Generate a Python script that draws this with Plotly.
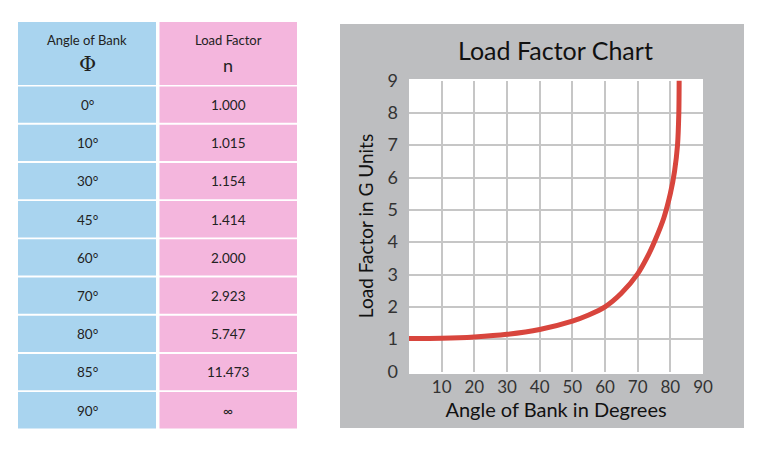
import plotly.graph_objects as go

# table values
header_names = ["Angle of Bank", "Load Factor"]
header_symbols = ["Φ", "n"]
bank_angles = ["0°", "10°", "30°", "45°", "60°", "70°", "80°", "85°", "90°"]
load_factors = ["1.000", "1.015", "1.154", "1.414", "2.000", "2.923", "5.747", "11.473", "∞"]

# curve
curve_angle = [0, 10, 20, 30, 40, 50, 55, 60, 65, 70, 73, 75.5, 78, 80, 81.3, 82.2, 82.6, 82.7]
curve_load = [1.02, 1.03, 1.07, 1.15, 1.3, 1.56, 1.75, 2.0, 2.42, 3.02, 3.55, 4.1, 4.75, 5.5, 6.2, 7.0, 8.0, 9.0]

x_ticks = [10, 20, 30, 40, 50, 60, 70, 80, 90]
y_ticks = [0, 1, 2, 3, 4, 5, 6, 7, 8, 9]

# page body has an 8px margin, so the figure is a bit smaller and offset
OX, OY = 8, 8
W, H = 760, 444
font = "Lato"
blue = "#a9d4ef"
pink = "#f4b6dd"
ink = "#222"

fig = go.Figure()


def px(x):
    return (x - OX) / W


def py(y):
    return 1 - (y - OY) / H


def cell(x0, x1, y0, y1, color):
    fig.add_shape(type="rect", xref="paper", yref="paper",
                  x0=px(x0), x1=px(x1), y0=py(y1), y1=py(y0),
                  fillcolor=color, line_width=0, layer="below")


def label(text, x, y, size, family=font, color=ink):
    fig.add_annotation(text=text, xref="paper", yref="paper", x=px(x), y=py(y),
                       xanchor="center", yanchor="middle", showarrow=False,
                       font=dict(family=family, size=size, color=color))


# table drawn as blocks
cols = [(18, 156, blue), (159.5, 297, pink)]
for c, (x0, x1, color) in enumerate(cols):
    xm = (x0 + x1) / 2
    cell(x0, x1, 22, 85, color)
    label(header_names[c], xm, 40, 13)
    if c == 0:
        label(header_symbols[c], xm, 64, 21, "DejaVu Serif")
    else:
        label(header_symbols[c], xm, 65, 18)
    column = bank_angles if c == 0 else load_factors
    for i, v in enumerate(column):
        top = 86.5 + i * 38.2
        cell(x0, x1, top, top + 36.3, color)
        label(v, xm, top + 18.5, 13.5)

fig.add_trace(go.Scatter(
    x=curve_angle, y=curve_load, mode="lines",
    line=dict(color="#d8453d", width=5, shape="spline", smoothing=0.8),
    showlegend=False, hoverinfo="skip",
))

# gray panel and white plot area
fig.add_shape(type="rect", xref="paper", yref="paper",
              x0=px(340), x1=px(744), y0=py(428), y1=py(24),
              fillcolor="#bdbec0", line_width=0, layer="below")
fig.add_shape(type="rect", xref="paper", yref="paper",
              x0=px(409), x1=px(703), y0=py(374), y1=py(79),
              fillcolor="white", line_width=0, layer="below")

label("Load Factor Chart", 555, 50, 25, color="#111")

fig.update_xaxes(
    domain=[px(409), px(703)], range=[0, 90], automargin=False,
    tickvals=x_ticks, showgrid=False, zeroline=False, showline=False,
    ticks="", ticklen=0, ticklabelstandoff=3,
    tickfont=dict(family=font, size=17, color="#333"),
    minor=dict(tickvals=x_ticks[:-1], showgrid=True, gridcolor="#c6c6c6", gridwidth=2, ticks=""),
    title=dict(text="Angle of Bank in Degrees", standoff=1,
               font=dict(family=font, size=20, color="#111")),
)
fig.update_yaxes(
    domain=[py(371.5), py(80.5)], range=[0, 9], automargin=False,
    tickvals=y_ticks, showgrid=False, zeroline=False, showline=False,
    ticks="", ticklen=0, ticklabelstandoff=10,
    tickfont=dict(family=font, size=18, color="#333"),
    minor=dict(tickvals=y_ticks[1:-1], showgrid=True, gridcolor="#c6c6c6", gridwidth=2, ticks=""),
    title=dict(text="Load Factor in G Units", standoff=8,
               font=dict(family=font, size=19, color="#111")),
)

fig.update_layout(
    width=W, height=H,
    margin=dict(l=0, r=0, t=0, b=0),
    paper_bgcolor="rgba(0,0,0,0)", plot_bgcolor="rgba(0,0,0,0)",
    showlegend=False,
)

fig.write_html("out.html")
